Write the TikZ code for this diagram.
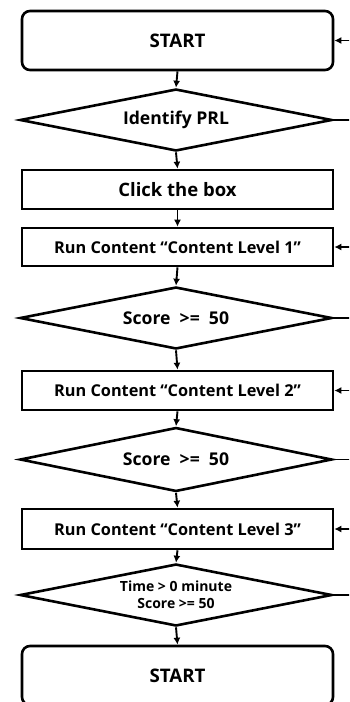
\documentclass[tikz,border=0pt]{standalone}
\usepackage{fontspec}
\setmainfont{Open Sans}
\usetikzlibrary{shapes.geometric,arrows.meta}
\tikzset{
  base/.style={draw=black, line width=2.6pt, fill=white, inner sep=0pt, align=center},
  termbox/.style={base, rectangle, rounded corners=8pt, minimum width=311pt, minimum height=59pt, font=\fontsize{18.7}{22}\selectfont\bfseries},
  procbox/.style={base, rectangle, minimum width=311pt, font=\fontsize{18.5}{22}\selectfont\bfseries},
  runbox/.style={base, rectangle, minimum width=311pt, font=\fontsize{16.3}{19}\selectfont\bfseries},
  decbox/.style={base, diamond, aspect=5, minimum width=312pt, font=\fontsize{17.6}{21}\selectfont\bfseries},
  smalldec/.style={base, diamond, aspect=5, minimum width=312pt, font=\fontsize{14}{17}\selectfont\bfseries},
  conn/.style={draw=black, line width=1.9pt},
  arr/.style={conn, -{Latex[length=7pt,width=7pt]}}
}
\begin{document}
\begin{tikzpicture}[x=1pt,y=-1pt]
\useasboundingbox (0,0) rectangle (349,702);
\clip (0,0) rectangle (349,702);
\node[termbox] (start) at (177.5,40.5) {START};
\node[decbox, minimum height=62pt] (prl) at (176,120) {Identify PRL};
\node[procbox, minimum height=39pt] (click) at (177.5,189.5) {Click the box};
\node[runbox, minimum height=38pt] (rc1) at (177.5,247) {Run Content “Content Level 1”};
\node[decbox, minimum height=62pt] (s1) at (176,318) {Score \ >=\ \ 50};
\node[runbox, minimum height=39pt] (rc2) at (177.5,390.5) {Run Content “Content Level 2”};
\node[decbox, minimum height=64pt] (s2) at (176,459.5) {Score \ >=\ \ 50};
\node[runbox, minimum height=40pt] (rc3) at (177.5,529) {Run Content “Content Level 3”};
\node[smalldec, minimum height=62pt] (s3) at (176,595) {Time > 0 minute\\Score >= 50};
\node[termbox] (finish) at (177.5,675.5) {START};

\draw[arr] (start.south) -- (prl.north);
\draw[arr] (prl.south) -- (click.north);
\draw[arr] (click.south) -- (rc1.north);
\draw[arr] (rc1.south) -- (s1.north);
\draw[arr] (s1.south) -- (rc2.north);
\draw[arr] (rc2.south) -- (s2.north);
\draw[arr] (s2.south) -- (rc3.north);
\draw[arr] (rc3.south) -- (s3.north);
\draw[arr] (s3.south) -- (finish.north);

\coordinate (e0) at (350,40.5);
\coordinate (e1) at (350,120);
\coordinate (e2) at (350,247);
\coordinate (e3) at (350,318);
\coordinate (e4) at (350,390.5);
\coordinate (e5) at (350,459.5);
\coordinate (e6) at (350,529);
\coordinate (e7) at (350,595);
\draw[arr] (e0) -- (start.east);
\draw[conn] (prl.east) -- (e1);
\draw[arr] (e2) -- (rc1.east);
\draw[conn] (s1.east) -- (e3);
\draw[arr] (e4) -- (rc2.east);
\draw[conn] (s2.east) -- (e5);
\draw[arr] (e6) -- (rc3.east);
\draw[conn] (s3.east) -- (e7);
\end{tikzpicture}
\end{document}
